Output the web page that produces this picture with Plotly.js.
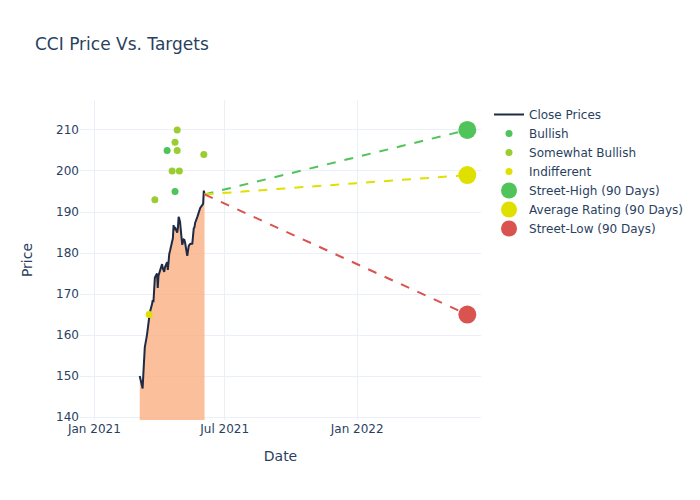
<!DOCTYPE html>
<html>
<head>
<meta charset="utf-8">
<script src="https://cdn.plot.ly/plotly-3.0.1.min.js"></script>
<style>
  html, body { margin: 0; padding: 0; background: #fff; }
  #plotly { width: 700px; height: 500px; }
</style>
</head>
<body>
<div id="plotly"></div>
<script>
// Close prices
const priceDates = [
  "2021-03-05", "2021-03-08", "2021-03-09", "2021-03-10", "2021-03-11", "2021-03-12",
  "2021-03-15", "2021-03-16", "2021-03-17", "2021-03-18", "2021-03-19",
  "2021-03-22", "2021-03-23", "2021-03-24", "2021-03-25", "2021-03-26",
  "2021-03-29", "2021-03-30", "2021-03-31", "2021-04-01",
  "2021-04-05", "2021-04-06", "2021-04-07", "2021-04-08", "2021-04-09",
  "2021-04-12", "2021-04-13", "2021-04-14", "2021-04-15", "2021-04-16",
  "2021-04-19", "2021-04-20", "2021-04-21", "2021-04-22", "2021-04-23",
  "2021-04-26", "2021-04-27", "2021-04-28", "2021-04-29", "2021-04-30",
  "2021-05-03", "2021-05-04", "2021-05-05", "2021-05-06", "2021-05-07",
  "2021-05-10", "2021-05-11", "2021-05-12", "2021-05-13", "2021-05-14",
  "2021-05-17", "2021-05-18", "2021-05-19", "2021-05-20", "2021-05-21",
  "2021-05-24", "2021-05-25", "2021-05-26", "2021-05-27", "2021-05-28",
  "2021-06-01", "2021-06-02", "2021-06-03"
];
const closePrices = [
  150, 148, 147, 150.5, 153, 157,
  160, 161.5, 163, 164.5, 165.5,
  167.5, 168.5, 168, 172.5, 174,
  175, 171.5, 174.5, 175,
  177.3, 176.3, 176, 175.4, 176.5,
  177.8, 175.9, 179.3, 179.8, 180.5,
  183, 183.6, 186.8, 185.6, 186.3,
  185, 186.1, 188.8, 188.3, 187.5,
  182, 183.2, 183.3, 183.2, 182.5,
  179.3, 181, 181.7, 182, 182.2,
  182.3, 185.1, 186, 186.3, 187.4,
  188.8, 189.5, 190, 190.5, 191,
  192, 195.2, 194.3
];

// Analyst ratings
const bullishDates = ["2021-04-12", "2021-04-23"];
const bullishTargets = [205, 195];
const somewhatDates = ["2021-03-26", "2021-04-19", "2021-04-23", "2021-04-26", "2021-04-26", "2021-04-29", "2021-06-02"];
const somewhatTargets = [193, 200, 207, 210, 205, 200, 204];
const indifferentDates = ["2021-03-18"];
const indifferentTargets = [165];

// 90 day targets
const lastDate = "2021-06-03";
const lastPrice = 194.3;
const targetDate = "2022-06-03";
const streetHigh = 210;
const averageRating = 199;
const streetLow = 165;

const green = "#50c35a";
const yellowGreen = "#9acd32";
const yellow = "#e0e000";
const red = "#d9534f";

const traces = [
  {
    x: priceDates, y: closePrices, type: "scatter", mode: "none",
    fill: "tozeroy", fillcolor: "rgba(250,175,130,0.8)",
    showlegend: false, hoverinfo: "skip"
  },
  {
    x: priceDates, y: closePrices, type: "scatter", mode: "lines",
    name: "Close Prices", line: { color: "#1f2a44", width: 2 }
  },
  {
    x: bullishDates, y: bullishTargets, type: "scatter", mode: "markers",
    name: "Bullish", marker: { color: green, size: 7 }
  },
  {
    x: somewhatDates, y: somewhatTargets, type: "scatter", mode: "markers",
    name: "Somewhat Bullish", marker: { color: yellowGreen, size: 7 }
  },
  {
    x: indifferentDates, y: indifferentTargets, type: "scatter", mode: "markers",
    name: "Indifferent", marker: { color: yellow, size: 7 }
  },
  {
    x: [lastDate, targetDate], y: [lastPrice, streetHigh], type: "scatter", mode: "lines",
    line: { color: green, dash: "dash", width: 2 }, showlegend: false
  },
  {
    x: [lastDate, targetDate], y: [lastPrice, averageRating], type: "scatter", mode: "lines",
    line: { color: yellow, dash: "dash", width: 2 }, showlegend: false
  },
  {
    x: [lastDate, targetDate], y: [lastPrice, streetLow], type: "scatter", mode: "lines",
    line: { color: red, dash: "dash", width: 2 }, showlegend: false
  },
  {
    x: [targetDate], y: [streetHigh], type: "scatter", mode: "markers",
    name: "Street-High (90 Days)", marker: { color: green, size: 18 }
  },
  {
    x: [targetDate], y: [averageRating], type: "scatter", mode: "markers",
    name: "Average Rating (90 Days)", marker: { color: yellow, size: 18 }
  },
  {
    x: [targetDate], y: [streetLow], type: "scatter", mode: "markers",
    name: "Street-Low (90 Days)", marker: { color: red, size: 18 }
  }
];

const layout = {
  template: "plotly_white",
  width: 700,
  height: 500,
  paper_bgcolor: "#fff",
  plot_bgcolor: "#fff",
  font: { family: "'DejaVu Sans', 'Open Sans', sans-serif", color: "#2a3f5f", size: 12 },
  title: { text: "CCI Price Vs. Targets", x: 0.05, font: { size: 17 } },
  margin: { l: 80, r: 80, t: 100, b: 80 },
  xaxis: {
    title: { text: "Date", standoff: 16 },
    automargin: true,
    type: "date",
    range: ["2020-12-12", "2022-06-22"],
    dtick: "M6",
    tick0: "2021-01-01",
    tickformat: "%b %Y",
    gridcolor: "#ebf0f8",
    zeroline: false
  },
  yaxis: {
    title: { text: "Price", standoff: 20 },
    automargin: true,
    range: [139.3, 217.3],
    dtick: 10,
    gridcolor: "#ebf0f8",
    zeroline: false
  },
  legend: { x: 1.02, y: 1, tracegroupgap: 0 }
};

Plotly.newPlot("plotly", traces, layout, { displayModeBar: false });
</script>
</body>
</html>
